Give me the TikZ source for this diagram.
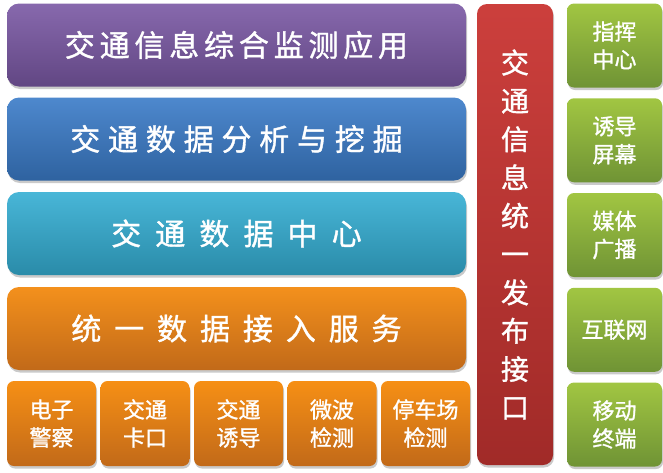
\documentclass[tikz,border=0pt]{standalone}
\usepackage{fontspec}
\newfontfamily\cjk[FakeBold=1.2]{Noto Sans CJK SC}
\usetikzlibrary{shadows}

\tikzset{
	soft/.style={drop shadow={shadow xshift=1pt, shadow yshift=-2.5pt, opacity=0.35, fill=black!60}},
	layer/.style={soft, rounded corners=12pt, minimum width=459pt, minimum height=83pt, text=white,
		font=\cjk\fontsize{30}{36}\selectfont\addfontfeatures{LetterSpace=#1}},
	tile/.style={soft, rounded corners=7pt, minimum width=89pt, minimum height=85pt, text=white, align=center,
		font=\cjk\fontsize{22}{28}\selectfont, top color=#1!75!orange!90!yellow, bottom color=#1!80!black},
	outlet/.style={soft, rounded corners=7pt, minimum width=95pt, minimum height=84pt, text=white, align=center,
		font=\cjk\fontsize{22}{28}\selectfont, top color=grn!85!yellow!95!white, bottom color=grn!80!black},
}
\definecolor{prp}{HTML}{7A58A4}
\definecolor{blu}{HTML}{3A7BC8}
\definecolor{cyn}{HTML}{34AED3}
\definecolor{org}{HTML}{F2841F}
\definecolor{rd}{HTML}{C93532}
\definecolor{grn}{HTML}{8BB842}

\begin{document}
\begin{tikzpicture}[x=1pt, y=-1pt]
	\useasboundingbox (0,0) rectangle (663,472);

	% layers
	\node[layer=16, top color=prp!90!white, bottom color=prp!80!black] (app) at (236.5,45) {交通信息综合监测应用};
	\node[layer=26, top color=blu!90!white, bottom color=blu!80!black] (mining) at (236.5,139) {交通数据分析与挖掘};
	\node[layer=47, top color=cyn!90!white, bottom color=cyn!80!black] (center) at (236.5,233.5) {交通数据中心};
	\node[layer=43, top color=org!90!yellow, bottom color=org!80!black] (access) at (236.5,328.5) {统一数据接入服务};

	% sources
	\foreach \name/\txt [count=\i from 0] in {police/电子\\警察, gate/交通\\卡口, guide/交通\\诱导, wave/微波\\检测, park/停车场\\检测}
		\node[tile=org] (\name) at (51.5+93.5*\i, 423.5) {\txt};

	% publish interface
	\node[soft, rounded corners=10pt, minimum width=76pt, minimum height=461pt, text=white, align=center,
		top color=rd!95!white, bottom color=rd!80!black, font=\cjk\fontsize{28}{38.3}\selectfont] (pub) at (515,234.5)
		{交\\通\\信\\息\\统\\一\\发\\布\\接\\口};

	% outlets
	\foreach \name/\txt [count=\i from 0] in {cmd/指挥\\中心, screen/诱导\\屏幕, media/媒体\\广播, web/互联网, mobile/移动\\终端}
		\node[outlet] (\name) at (614.5, 45.5+94.75*\i) {\txt};
\end{tikzpicture}
\end{document}
